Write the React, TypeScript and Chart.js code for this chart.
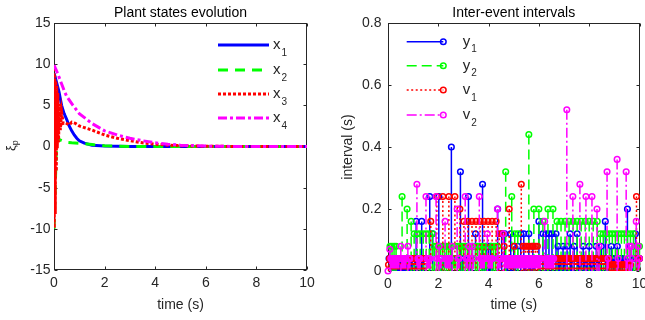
import React, { useEffect, useRef } from "react";
import { Chart, registerables } from "chart.js";

Chart.register(...registerables);

const FONT = '"Liberation Sans", Arial, Helvetica, sans-serif';
const AXIS_COLOR = "#262626";

// ---------- Left panel: plant states ----------
const x1Time = [0, 0.05, 0.1, 0.15, 0.2, 0.25, 0.3, 0.4, 0.5, 0.6, 0.7, 0.8, 0.9, 1.0, 1.2, 1.5, 2.0, 2.5, 3.0, 10];
const x1Values = [8.9, 8.4, 7.8, 7.2, 6.6, 5.8, 5.0, 4.0, 3.3, 2.5, 1.9, 1.4, 1.0, 0.7, 0.4, 0.15, 0.05, 0.02, 0, 0];

const x2Time = [0, 0.04, 0.08, 0.11, 0.2, 0.35, 0.5, 0.7, 1.0, 1.3, 1.6, 2.0, 2.5, 3.0, 4.0, 10];
const x2Values = [-10, -6, -1.5, 0.9, 0.85, 0.65, 0.5, 0.45, 0.4, 0.3, 0.2, 0.1, 0.04, 0.01, 0, 0];

const x3Time = [0, 0.01, 0.03, 0.05, 0.07, 0.09, 0.11, 0.13, 0.15, 0.18, 0.21, 0.25, 0.3, 0.36, 0.45, 0.6, 0.7, 0.85, 1.0, 1.2, 1.5, 2.0, 2.5, 3.0, 3.5, 4.0, 4.5, 5.0, 6.0, 7.0, 10];
const x3Values = [9.5, -9.9, 8.6, -8.2, 8.0, -3.0, 7.4, -0.2, 6.5, 0.5, 5.2, 2.0, 4.2, 2.8, 2.9, 2.6, 2.95, 2.8, 2.5, 2.3, 2.0, 1.4, 1.0, 0.7, 0.45, 0.28, 0.16, 0.1, 0.03, 0.01, 0];

const x4Time = [0, 0.1, 0.24, 0.4, 0.5, 0.75, 1.0, 1.5, 2.0, 2.5, 3.0, 3.5, 4.0, 4.5, 5.0, 6.0, 7.0, 10];
const x4Values = [9.9, 9.2, 8.1, 6.8, 6.1, 5.0, 4.0, 2.8, 1.9, 1.4, 1.0, 0.7, 0.45, 0.28, 0.16, 0.05, 0.01, 0];

const timeTicks = [0, 2, 4, 6, 8, 10];
const stateTicks = [-15, -10, -5, 0, 5, 10, 15];
const intervalTicks = [0, 0.2, 0.4, 0.6, 0.8];

// ---------- Right panel: inter-event intervals ----------
// runs of [interval (s), how many consecutive events with that interval]
const y1Runs = [
  [0.04, 24], [0.16, 1], [0.02, 1], [0.04, 1], [0.16, 1], [0.04, 2], [0.24, 1], [0.12, 1], [0.24, 1],
  [0.04, 2], [0.02, 1], [0.4, 1], [0.04, 1], [0.32, 1], [0.04, 2], [0.24, 1], [0.04, 2], [0.08, 1],
  [0.12, 1], [0.28, 1], [0.04, 2], [0.08, 3], [0.04, 2], [0.2, 1], [0.04, 1], [0.12, 2], [0.04, 3],
  [0.12, 1], [0.04, 1], [0.08, 1], [0.04, 2], [0.08, 1], [0.12, 2], [0.04, 2], [0.12, 1], [0.04, 2],
  [0.08, 1], [0.04, 2], [0.16, 1], [0.04, 1], [0.12, 4], [0.04, 1], [0.12, 1], [0.08, 1], [0.04, 3],
  [0.08, 1], [0.04, 2], [0.08, 1], [0.12, 1], [0.04, 2], [0.08, 1], [0.12, 1], [0.04, 4], [0.08, 1],
  [0.04, 4], [0.08, 1], [0.04, 5], [0.08, 1], [0.04, 3], [0.08, 1], [0.16, 1], [0.04, 4], [0.08, 1],
  [0.04, 4], [0.08, 1], [0.04, 5], [0.2, 1], [0.04, 2], [0.08, 1], [0.04, 1], [0.12, 1], [0.04, 4],
];
const y2Runs = [
  [0.08, 4], [0.24, 1], [0.2, 1], [0.16, 1], [0.12, 7], [0.08, 10], [0.04, 3], [0.08, 8], [0.04, 2],
  [0.08, 6], [0.04, 4], [0.08, 4], [0.32, 1], [0.24, 1], [0.12, 2], [0.44, 1], [0.2, 2], [0.16, 1],
  [0.2, 2], [0.16, 11], [0.12, 12], [0.08, 3],
];
const v1Runs = [
  [0.02, 1], [0.04, 38], [0.16, 1], [0.24, 4], [0.2, 1], [0.16, 9], [0.12, 2], [0.08, 1], [0.2, 1],
  [0.04, 3], [0.08, 1], [0.28, 1], [0.08, 8], [0.04, 71], [0.02, 43], [0.24, 1], [0.04, 3],
];
const v2Runs = [
  [0, 1], [0.07, 1], [0.04, 9], [0.08, 1], [0.04, 5], [0.08, 1], [0.04, 2], [0.28, 1], [0.04, 3],
  [0.24, 1], [0.04, 4], [0.24, 1], [0.04, 1], [0.08, 1], [0.04, 2], [0.16, 1], [0.04, 5], [0.08, 1],
  [0.2, 1], [0.04, 2], [0.24, 1], [0.04, 2], [0.08, 1], [0.04, 1], [0.08, 1], [0.04, 1], [0.24, 1],
  [0.04, 5], [0.12, 1], [0.04, 5], [0.2, 1], [0.04, 3], [0.12, 1], [0.04, 37], [0.16, 1], [0.04, 9],
  [0.52, 1], [0.24, 1], [0.28, 1], [0.24, 2], [0.2, 1], [0.08, 1], [0.32, 1], [0.04, 1], [0.36, 1],
  [0.04, 1], [0.32, 1], [0.04, 1], [0.08, 2], [0.04, 1], [0.16, 1], [0.08, 1], [0.04, 1],
];

const BLUE = "#0000ff";
const GREEN = "#00ff00";
const RED = "#ff0000";
const MAGENTA = "#ff00ff";

const stateSeries = [
  { sub: "1", time: x1Time, values: x1Values, color: BLUE, dash: [] as number[] },
  { sub: "2", time: x2Time, values: x2Values, color: GREEN, dash: [10, 7] },
  { sub: "3", time: x3Time, values: x3Values, color: RED, dash: [3, 2] },
  { sub: "4", time: x4Time, values: x4Values, color: MAGENTA, dash: [9, 3, 3, 3] },
];

const stemSeries = [
  { base: "y", sub: "1", runs: y1Runs, color: BLUE, dash: [] as number[] },
  { base: "y", sub: "2", runs: y2Runs, color: GREEN, dash: [10, 5] },
  { base: "v", sub: "1", runs: v1Runs, color: RED, dash: [2, 2.5] },
  { base: "v", sub: "2", runs: v2Runs, color: MAGENTA, dash: [10, 3, 2, 3] },
];

function stemData(runs: number[][]) {
  const pts: { x: number; y: number | null }[] = [];
  let t = 0;
  for (const [h, n] of runs) {
    for (let i = 0; i < n; i++) {
      t += h;
      const x = Math.round(t * 1000) / 1000;
      pts.push({ x, y: h }, { x, y: 0 }, { x, y: null });
    }
  }
  return pts;
}

function setTicks(values: number[]) {
  return (scale: any) => {
    scale.ticks = values.map((v) => ({ value: v }));
  };
}

type LegendEntry = { base: string; sub: string; color: string; dash: number[]; width: number; marker: boolean };

function decorPlugin(cfg: {
  title: string;
  legend: LegendEntry[];
  legendX0: number;
  legendX1: number;
  legendTextX: number;
  legendYs: number[];
  xiLabel?: boolean;
}) {
  return {
    id: "decor",
    beforeDatasetsDraw(chart: any) {
      const { ctx, chartArea: a, scales } = chart;
      const L = Math.round(a.left) + 0.5;
      const R = Math.round(a.right) - 0.5;
      const T = Math.round(a.top) + 0.5;
      const B = Math.round(a.bottom) - 0.5;
      ctx.save();
      ctx.strokeStyle = AXIS_COLOR;
      ctx.lineWidth = 1;
      ctx.setLineDash([]);
      ctx.strokeRect(L, T, R - L, B - T);
      ctx.beginPath();
      for (const tk of scales.x.ticks) {
        const p = Math.round(scales.x.getPixelForValue(tk.value)) + 0.5;
        ctx.moveTo(p, B);
        ctx.lineTo(p, B - 3);
        ctx.moveTo(p, T);
        ctx.lineTo(p, T + 3);
      }
      for (const tk of scales.y.ticks) {
        const p = Math.round(scales.y.getPixelForValue(tk.value)) + 0.5;
        ctx.moveTo(L, p);
        ctx.lineTo(L + 3, p);
        ctx.moveTo(R, p);
        ctx.lineTo(R - 3, p);
      }
      ctx.stroke();
      ctx.restore();
    },
    afterDraw(chart: any) {
      const { ctx, chartArea: a } = chart;
      ctx.save();
      ctx.fillStyle = "#000";
      ctx.font = `14px ${FONT}`;
      ctx.textAlign = "center";
      ctx.textBaseline = "alphabetic";
      ctx.fillText(cfg.title, (a.left + a.right) / 2, 17);
      cfg.legend.forEach((e, i) => {
        const y = cfg.legendYs[i];
        ctx.strokeStyle = e.color;
        ctx.lineWidth = e.width;
        ctx.lineCap = "butt";
        ctx.setLineDash(e.dash);
        ctx.beginPath();
        ctx.moveTo(cfg.legendX0, y);
        ctx.lineTo(cfg.legendX1, y);
        ctx.stroke();
        ctx.setLineDash([]);
        if (e.marker) {
          ctx.lineWidth = 1.5;
          ctx.beginPath();
          ctx.arc(cfg.legendX1, y, 2.8, 0, Math.PI * 2);
          ctx.stroke();
        }
        ctx.fillStyle = AXIS_COLOR;
        ctx.textAlign = "left";
        ctx.font = `15px ${FONT}`;
        ctx.fillText(e.base, cfg.legendTextX, y + 4);
        const w = ctx.measureText(e.base).width;
        ctx.font = `10px ${FONT}`;
        ctx.fillText(e.sub, cfg.legendTextX + w + 1, y + 10.5);
      });
      if (cfg.xiLabel) {
        ctx.translate(15, 151);
        ctx.rotate(-Math.PI / 2);
        ctx.fillStyle = AXIS_COLOR;
        ctx.textAlign = "left";
        ctx.font = `13px ${FONT}`;
        ctx.fillText("ξ", 0, 0);
        const w = ctx.measureText("ξ").width;
        ctx.font = `9px ${FONT}`;
        ctx.fillText("p", w, 3);
      }
      ctx.restore();
    },
  };
}

function tickFont() {
  return { family: FONT, size: 14 };
}

function LeftChart() {
  const ref = useRef<HTMLCanvasElement>(null);
  useEffect(() => {
    const datasets = stateSeries.map((s, i) => ({
      label: "x" + s.sub,
      data: s.time.map((t, k) => ({ x: t, y: s.values[k] })),
      borderColor: s.color,
      borderWidth: 3,
      borderDash: s.dash,
      borderCapStyle: "butt",
      pointRadius: 0,
      tension: 0,
      fill: false,
      order: 4 - i,
    }));
    const chart = new Chart(ref.current as HTMLCanvasElement, {
      type: "line",
      data: { datasets } as any,
      options: {
        responsive: false,
        animation: false,
        devicePixelRatio: 1,
        events: [],
        layout: { padding: { left: 0, right: 23, top: 23, bottom: 0 } },
        plugins: { legend: { display: false }, tooltip: { enabled: false }, title: { display: false } },
        scales: {
          x: {
            type: "linear",
            min: 0,
            max: 10,
            afterBuildTicks: setTicks(timeTicks),
            grid: { display: false, drawTicks: false },
            border: { display: false },
            ticks: { font: tickFont(), color: AXIS_COLOR, padding: 5, maxRotation: 0, autoSkip: false },
            title: { display: true, text: "time (s)", font: tickFont(), color: AXIS_COLOR, padding: { top: 0, bottom: 6 } },
            afterFit: (s: any) => {
              s.height = 50;
              s.paddingLeft = 0;
              s.paddingRight = 0;
            },
          },
          y: {
            type: "linear",
            min: -15,
            max: 15,
            afterBuildTicks: setTicks(stateTicks),
            grid: { display: false, drawTicks: false },
            border: { display: false },
            ticks: { font: tickFont(), color: AXIS_COLOR, padding: 3.5, autoSkip: false },
            afterFit: (s: any) => {
              s.width = 54;
              s.paddingTop = 0;
              s.paddingBottom = 0;
            },
          },
        },
      } as any,
      plugins: [
        decorPlugin({
          title: "Plant states evolution",
          legend: stateSeries.map((s) => ({ base: "x", sub: s.sub, color: s.color, dash: s.dash, width: 3, marker: false })),
          legendX0: 218,
          legendX1: 269,
          legendTextX: 273,
          legendYs: [45, 70, 94, 118],
          xiLabel: true,
        }),
      ],
    });
    return () => chart.destroy();
  }, []);
  return <canvas ref={ref} width={330} height={320} style={{ display: "block", width: 330, height: 320 }} />;
}

function RightChart() {
  const ref = useRef<HTMLCanvasElement>(null);
  useEffect(() => {
    const datasets = stemSeries.map((s, i) => ({
      label: s.base + s.sub,
      data: stemData(s.runs),
      borderColor: s.color,
      borderWidth: 1.5,
      borderDash: s.dash,
      borderCapStyle: "butt",
      pointRadius: (c: any) => (c.dataIndex % 3 === 0 ? 2.8 : 0),
      pointBorderColor: s.color,
      pointBackgroundColor: "rgba(0,0,0,0)",
      pointBorderWidth: 1.5,
      tension: 0,
      fill: false,
      spanGaps: false,
      clip: false,
      order: 4 - i,
    }));
    const chart = new Chart(ref.current as HTMLCanvasElement, {
      type: "line",
      data: { datasets } as any,
      options: {
        responsive: false,
        animation: false,
        devicePixelRatio: 1,
        events: [],
        layout: { padding: { left: 0, right: 4, top: 23, bottom: 0 } },
        plugins: { legend: { display: false }, tooltip: { enabled: false }, title: { display: false } },
        scales: {
          x: {
            type: "linear",
            min: 0,
            max: 10,
            afterBuildTicks: setTicks(timeTicks),
            grid: { display: false, drawTicks: false },
            border: { display: false },
            ticks: { font: tickFont(), color: AXIS_COLOR, padding: 5, maxRotation: 0, autoSkip: false },
            title: { display: true, text: "time (s)", font: tickFont(), color: AXIS_COLOR, padding: { top: 0, bottom: 6 } },
            afterFit: (s: any) => {
              s.height = 49;
              s.paddingLeft = 0;
              s.paddingRight = 0;
            },
          },
          y: {
            type: "linear",
            min: 0,
            max: 0.8,
            afterBuildTicks: setTicks(intervalTicks),
            grid: { display: false, drawTicks: false },
            border: { display: false },
            ticks: {
              font: tickFont(),
              color: AXIS_COLOR,
              padding: 6.5,
              autoSkip: false,
              callback: (v: any) => String(Math.round(Number(v) * 10) / 10),
            },
            title: { display: true, text: "interval (s)", font: tickFont(), color: AXIS_COLOR, padding: { top: 9.6, bottom: 0 } },
            afterFit: (s: any) => {
              s.width = 58;
              s.paddingTop = 0;
              s.paddingBottom = 0;
            },
          },
        },
      } as any,
      plugins: [
        decorPlugin({
          title: "Inter-event intervals",
          legend: stemSeries.map((s) => ({ base: s.base, sub: s.sub, color: s.color, dash: s.dash, width: 1.5, marker: true })),
          legendX0: 76.7,
          legendX1: 113.3,
          legendTextX: 132.7,
          legendYs: [41.7, 65.7, 90, 115],
        }),
      ],
    });
    return () => chart.destroy();
  }, []);
  return <canvas ref={ref} width={315} height={320} style={{ display: "block", width: 315, height: 320 }} />;
}

export default function App() {
  return (
    <div style={{ position: "absolute", left: 0, top: 0, width: 645, height: 320, background: "#fff", display: "flex" }}>
      <LeftChart />
      <RightChart />
    </div>
  );
}
